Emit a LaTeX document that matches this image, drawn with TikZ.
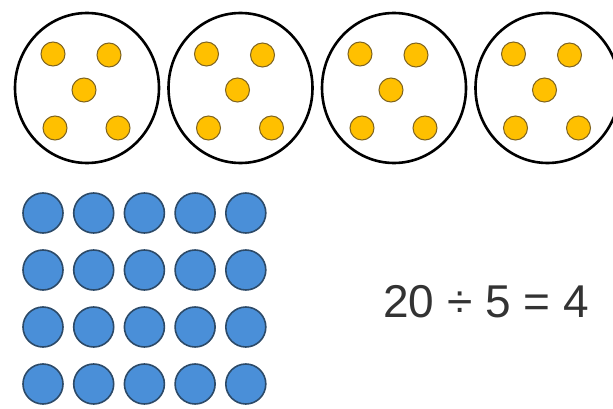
\documentclass[tikz,border=0pt]{standalone}
\usepackage{fontspec}
\setmainfont{Liberation Sans}
\usetikzlibrary{shapes.geometric}

\definecolor{beadfill}{HTML}{FFC000}
\definecolor{beadline}{HTML}{7F6420}
\definecolor{dotfill}{HTML}{4A8FD8}
\definecolor{dotline}{HTML}{2C4A68}
\definecolor{eqtext}{HTML}{333333}

\begin{document}
\begin{tikzpicture}[
    x=1pt, y=-1pt,
    ring/.style={ellipse, draw=black, line width=2.6pt, fill=white, minimum width=144pt, minimum height=150pt, inner sep=0pt},
    bead/.style={circle, draw=beadline, line width=1pt, fill=beadfill, minimum size=24pt, inner sep=0pt},
    token/.style={circle, draw=dotline, line width=1.6pt, fill=dotfill, minimum size=40pt, inner sep=0pt}
]
\useasboundingbox (0,0) rectangle (613,409);
\clip (0,0) rectangle (613,409);

% four groups of five
\foreach \i in {0,...,3} {
  \node[ring] (g\i) at (87+153.5*\i, 88) {};
  \node[bead] (g\i-a) at ([shift={(-34,-34)}]g\i.center) {};
  \node[bead] (g\i-b) at ([shift={(22,-33)}]g\i.center) {};
  \node[bead] (g\i-c) at ([shift={(-3,2)}]g\i.center) {};
  \node[bead] (g\i-d) at ([shift={(-32,40)}]g\i.center) {};
  \node[bead] (g\i-e) at ([shift={(31,40)}]g\i.center) {};
}

% array of twenty
\foreach \r in {0,...,3}
  \foreach \c in {0,...,4}
    \node[token] (t\r\c) at (43+50.7*\c, 213+57*\r) {};

\node[text=eqtext, font=\fontsize{46}{50}\selectfont] (eq) at (486, 302) {20 ÷ 5 = 4};
\end{tikzpicture}
\end{document}
